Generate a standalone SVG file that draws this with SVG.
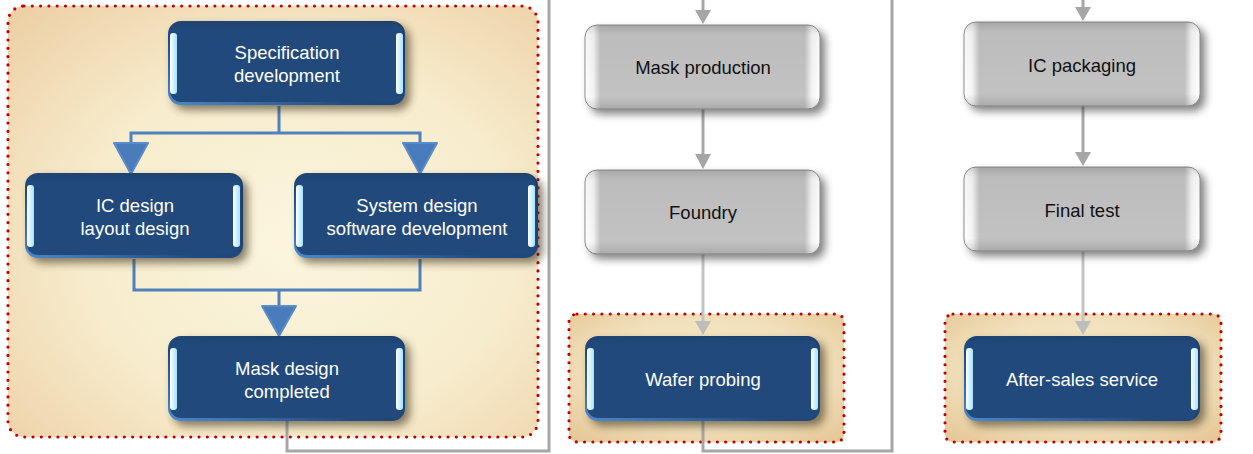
<svg xmlns="http://www.w3.org/2000/svg" width="1253" height="454" viewBox="0 0 1253 454">
<defs>
<style>
.txtW{font-family:"Liberation Sans",Arial,sans-serif;font-size:18.5px;fill:#ffffff;text-anchor:middle}
.txtK{font-family:"Liberation Sans",Arial,sans-serif;font-size:18.5px;fill:#111111;text-anchor:middle}
.frame{stroke:#c00000;stroke-width:3.2;stroke-dasharray:0 8.3;stroke-linecap:round}
.bl{fill:none;stroke:#4f81bd;stroke-width:3}
.ba{fill:#4a7bba;stroke:#5a8cca;stroke-width:2;stroke-linejoin:round}
.gl{fill:none;stroke:#a6a6a6;stroke-width:3}
.gl2{fill:none;stroke:#c4c4c4;stroke-width:3}
.ga{fill:#a6a6a6}
.ga2{fill:#bdbdbd}
.bar{fill:url(#barG)}
.shb{fill:#3a2e18;opacity:0.6;filter:url(#blur)}
.shg{fill:#3a3a3a;opacity:0.65;filter:url(#blur)}
</style>
<filter id="blur" x="-20%" y="-30%" width="140%" height="160%">
<feGaussianBlur stdDeviation="4.5"/>
</filter>
<radialGradient id="bigBg" cx="55%" cy="55%" r="75%">
<stop offset="0" stop-color="#fbf6de"/>
<stop offset="0.55" stop-color="#f7eccd"/>
<stop offset="1" stop-color="#edd0a6"/>
</radialGradient>
<radialGradient id="smBg" cx="50%" cy="45%" r="70%">
<stop offset="0" stop-color="#f8efcf"/>
<stop offset="0.6" stop-color="#f1e0bb"/>
<stop offset="1" stop-color="#e6c898"/>
</radialGradient>
<linearGradient id="blueEdge" x1="1" y1="0" x2="0" y2="1">
<stop offset="0" stop-color="#1a3b66"/>
<stop offset="0.6" stop-color="#1f4a80"/>
<stop offset="1" stop-color="#4d8ad0"/>
</linearGradient>
<linearGradient id="blueFill" x1="0" y1="0" x2="0" y2="1">
<stop offset="0" stop-color="#1d4472"/>
<stop offset="0.1" stop-color="#21497c"/>
<stop offset="1" stop-color="#21497c"/>
</linearGradient>
<linearGradient id="barG" x1="0" y1="0" x2="1" y2="0">
<stop offset="0" stop-color="#ffffff"/>
<stop offset="1" stop-color="#a6e2ff"/>
</linearGradient>
<linearGradient id="grayFill" x1="0" y1="0" x2="1" y2="0">
<stop offset="0" stop-color="#ffffff"/>
<stop offset="0.035" stop-color="#f4f4f4"/>
<stop offset="0.065" stop-color="#c2c2c2"/>
<stop offset="0.935" stop-color="#c2c2c2"/>
<stop offset="0.965" stop-color="#f4f4f4"/>
<stop offset="1" stop-color="#ffffff"/>
</linearGradient>
<linearGradient id="grayV" x1="0" y1="0" x2="0" y2="1">
<stop offset="0" stop-color="#000" stop-opacity="0.14"/>
<stop offset="0.12" stop-color="#000" stop-opacity="0.03"/>
<stop offset="0.85" stop-color="#000" stop-opacity="0"/>
<stop offset="1" stop-color="#000" stop-opacity="0.12"/>
</linearGradient>
</defs>
<rect width="1253" height="454" fill="#ffffff"/>

<g id="frame-design">
<rect x="8" y="6" width="530" height="431" rx="16" fill="url(#bigBg)"/>
<rect x="8" y="6" width="530" height="431" rx="16" fill="none" class="frame"/>
</g>
<g id="frame-wafer">
<rect x="569" y="314" width="275" height="128" rx="8" fill="url(#smBg)"/>
<rect x="569" y="314" width="275" height="128" rx="8" fill="none" class="frame"/>
</g>
<g id="frame-service">
<rect x="945" y="314" width="276" height="128" rx="8" fill="url(#smBg)"/>
<rect x="945" y="314" width="276" height="128" rx="8" fill="none" class="frame"/>
</g>

<g id="connectors">
<polyline class="bl" points="279,106 279,133"/>
<polyline class="bl" points="131,145 131,133 420,133 420,145"/>
<polygon class="ba" points="114,143 148,143 131,174"/>
<polygon class="ba" points="403,143 437,143 420,174"/>
<polyline class="bl" points="134,259 134,290 420,290 420,259"/>
<polyline class="bl" points="279,290 279,308"/>
<polygon class="ba" points="262,306 296,306 279,336"/>
<polyline class="gl" points="287,421 287,451 549,451 549,0"/>
<polyline class="gl" points="703,421 703,451 892,451 892,0"/>
<polyline class="gl" points="703,0 703,12"/>
<polygon class="ga" points="695,10 711,10 703,24"/>
<polyline class="gl" points="703,109 703,156"/>
<polygon class="ga" points="695,154 711,154 703,169"/>
<polyline class="gl2" points="703,254 703,323"/>
<polygon class="ga2" points="695,321 711,321 703,335"/>
<polyline class="gl" points="1083,0 1083,9"/>
<polygon class="ga" points="1075,7 1091,7 1083,21"/>
<polyline class="gl" points="1083,106 1083,154"/>
<polygon class="ga" points="1075,152 1091,152 1083,166"/>
<polyline class="gl2" points="1083,251 1083,323"/>
<polygon class="ga2" points="1075,321 1091,321 1083,335"/>
</g>

<g id="node-spec">
<rect class="shb" x="173" y="26" width="237" height="84" rx="13"/>
<rect x="168" y="21" width="237" height="84" rx="13" fill="url(#blueEdge)"/>
<rect x="170" y="22" width="233" height="80" rx="11" fill="url(#blueFill)"/>
<rect class="bar" x="170" y="33" width="7" height="61" rx="3"/>
<rect class="bar" x="396" y="33" width="7" height="61" rx="3"/>
<text class="txtW" x="287" y="59">Specification</text>
<text class="txtW" x="287" y="82">development</text>
</g>
<g id="node-ic">
<rect class="shb" x="30" y="178" width="218" height="85" rx="13"/>
<rect x="25" y="173" width="218" height="85" rx="13" fill="url(#blueEdge)"/>
<rect x="27" y="174" width="214" height="81" rx="11" fill="url(#blueFill)"/>
<rect class="bar" x="27" y="185" width="7" height="62" rx="3"/>
<rect class="bar" x="233" y="185" width="7" height="62" rx="3"/>
<text class="txtW" x="135" y="212">IC design</text>
<text class="txtW" x="135" y="235">layout design</text>
</g>
<g id="node-system">
<rect class="shb" x="299" y="178" width="244" height="85" rx="13"/>
<rect x="294" y="173" width="244" height="85" rx="13" fill="url(#blueEdge)"/>
<rect x="296" y="174" width="240" height="81" rx="11" fill="url(#blueFill)"/>
<rect class="bar" x="296" y="185" width="7" height="62" rx="3"/>
<rect class="bar" x="528" y="185" width="7" height="62" rx="3"/>
<text class="txtW" x="417" y="212">System design</text>
<text class="txtW" x="417" y="235">software development</text>
</g>
<g id="node-mask-design">
<rect class="shb" x="173" y="341" width="237" height="85" rx="13"/>
<rect x="168" y="336" width="237" height="85" rx="13" fill="url(#blueEdge)"/>
<rect x="170" y="337" width="233" height="81" rx="11" fill="url(#blueFill)"/>
<rect class="bar" x="170" y="348" width="7" height="62" rx="3"/>
<rect class="bar" x="396" y="348" width="7" height="62" rx="3"/>
<text class="txtW" x="287" y="375">Mask design</text>
<text class="txtW" x="287" y="398">completed</text>
</g>

<g id="node-mask-production">
<rect class="shg" x="590" y="30" width="235" height="84" rx="12"/>
<rect x="585" y="25" width="235" height="84" rx="12" fill="url(#grayFill)" stroke="#8f8f8f" stroke-width="1"/>
<rect x="585" y="25" width="235" height="84" rx="12" fill="url(#grayV)"/>
<text class="txtK" x="703" y="74">Mask production</text>
</g>
<g id="node-foundry">
<rect class="shg" x="590" y="175" width="235" height="84" rx="12"/>
<rect x="585" y="170" width="235" height="84" rx="12" fill="url(#grayFill)" stroke="#8f8f8f" stroke-width="1"/>
<rect x="585" y="170" width="235" height="84" rx="12" fill="url(#grayV)"/>
<text class="txtK" x="703" y="219">Foundry</text>
</g>
<g id="node-wafer">
<rect class="shb" x="590" y="341" width="235" height="85" rx="13"/>
<rect x="585" y="336" width="235" height="85" rx="13" fill="url(#blueEdge)"/>
<rect x="587" y="337" width="231" height="81" rx="11" fill="url(#blueFill)"/>
<rect class="bar" x="587" y="348" width="7" height="62" rx="3"/>
<rect class="bar" x="811" y="348" width="7" height="62" rx="3"/>
<text class="txtW" x="703" y="386">Wafer probing</text>
</g>

<g id="node-ic-packaging">
<rect class="shg" x="969" y="27" width="236" height="84" rx="12"/>
<rect x="964" y="22" width="236" height="84" rx="12" fill="url(#grayFill)" stroke="#8f8f8f" stroke-width="1"/>
<rect x="964" y="22" width="236" height="84" rx="12" fill="url(#grayV)"/>
<text class="txtK" x="1082" y="72">IC packaging</text>
</g>
<g id="node-final-test">
<rect class="shg" x="969" y="172" width="236" height="84" rx="12"/>
<rect x="964" y="167" width="236" height="84" rx="12" fill="url(#grayFill)" stroke="#8f8f8f" stroke-width="1"/>
<rect x="964" y="167" width="236" height="84" rx="12" fill="url(#grayV)"/>
<text class="txtK" x="1082" y="217">Final test</text>
</g>
<g id="node-after-sales">
<rect class="shb" x="969" y="341" width="236" height="85" rx="13"/>
<rect x="964" y="336" width="236" height="85" rx="13" fill="url(#blueEdge)"/>
<rect x="966" y="337" width="232" height="81" rx="11" fill="url(#blueFill)"/>
<rect class="bar" x="966" y="348" width="7" height="62" rx="3"/>
<rect class="bar" x="1191" y="348" width="7" height="62" rx="3"/>
<text class="txtW" x="1082" y="386">After-sales service</text>
</g>
</svg>
